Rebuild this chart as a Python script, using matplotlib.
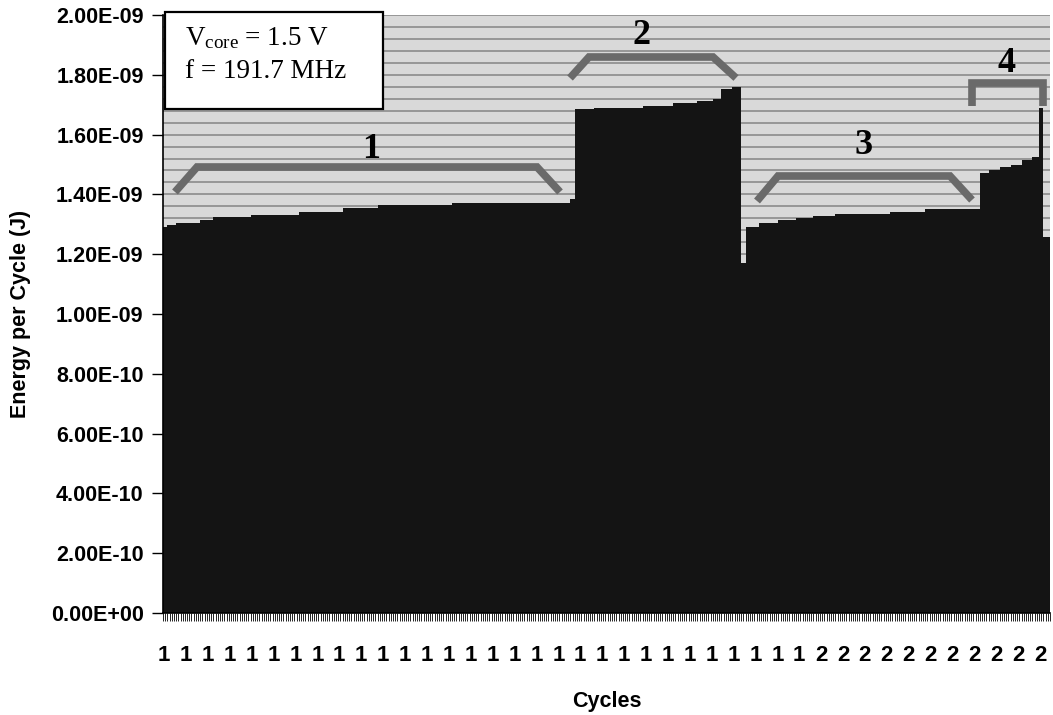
import numpy as np
import matplotlib
matplotlib.use("Agg")
import matplotlib.pyplot as plt
from matplotlib.patches import Rectangle

level_values = [1.291, 1.298, 1.304, 1.315, 1.324, 1.331, 1.341, 1.355, 1.365, 1.371, 1.385,   # phase 1
                1.686, 1.690, 1.697, 1.705, 1.712, 1.718, 1.752, 1.758,                        # phase 2
                1.171,
                1.292, 1.303, 1.314, 1.322, 1.328, 1.334, 1.341, 1.350,                        # phase 3
                1.471, 1.482, 1.491, 1.500, 1.515, 1.526,                                      # phase 4
                1.688, 1.259]
level_counts = [2, 4, 11, 6, 17, 22, 20, 16, 34, 54, 2,
                9, 22, 14, 11, 7, 4, 5, 4,
                2,
                6, 9, 8, 8, 10, 25, 16, 25,
                4, 5, 5, 5, 5, 3,
                2, 3]

# category labels shown every 10th cycle
cycle_labels = ["1"] * 30 + ["2"] * 11
label_step = 10

y_ticks = [0, 2e-10, 4e-10, 6e-10, 8e-10, 1e-9, 1.2e-9, 1.4e-9, 1.6e-9, 1.8e-9, 2e-9]

energy = np.repeat(level_values, level_counts) * 1e-9
n = len(energy)
x = np.arange(n)

W, H = 1053, 715
fig = plt.figure(figsize=(W / 100, H / 100), dpi=100)
ax = fig.add_axes([163 / W, 1 - 613 / H, 887 / W, 598 / H])
ax.set_facecolor("#d9d9d9")

# Excel style horizontal gridlines
for g in np.arange(4e-11, 2e-9 + 1e-12, 4e-11):
    ax.axhline(g, color="#858585", lw=1.1, zorder=1)

ax.bar(x, energy, width=1.0, color="#141414", edgecolor="none", linewidth=0, zorder=2)

ax.set_xlim(-0.5, n - 0.5)
ax.set_ylim(0, 2e-9)
ax.set_yticks(y_ticks)
ax.set_yticklabels(["%.2E" % v for v in y_ticks], fontsize=15.5, fontweight="bold",
                   family="Liberation Sans")
ax.tick_params(axis="y", direction="out", length=8, width=1, pad=6)

label_pos = np.arange(0, n, label_step)[:len(cycle_labels)]
ax.set_xticks(label_pos)
ax.set_xticklabels(cycle_labels, fontsize=16, fontweight="bold", family="Liberation Sans")
ax.tick_params(axis="x", length=0, pad=23)
ax.set_xticks(np.arange(n + 1) - 0.5, minor=True)
ax.tick_params(axis="x", which="minor", direction="out", length=6, width=0.6)

for s in ["top", "right"]:
    ax.spines[s].set_visible(False)
ax.spines["left"].set_linewidth(1.2)
ax.spines["bottom"].set_linewidth(1.2)

ax.set_ylabel("Energy per Cycle (J)", fontsize=15.5, fontweight="bold",
              family="Liberation Sans", labelpad=14)
ax.set_xlabel("Cycles", fontsize=15.5, fontweight="bold", family="Liberation Sans", labelpad=18)

# pixel helpers for annotations (image coordinates, y down)
def fx(px):
    return (px - 163) / 887.0
def fy(py):
    return (613 - py) / 598.0

# text box with operating point
ax.add_patch(Rectangle((fx(165), fy(109)), fx(383) - fx(165), fy(12) - fy(109),
                       transform=ax.transAxes, facecolor="white", edgecolor="black",
                       lw=1.6, zorder=5, clip_on=False))
box_txt = dict(transform=ax.transAxes, fontsize=19.5, family="Liberation Serif",
               va="baseline", ha="left", zorder=6)
ax.text(fx(185), fy(45), "$\\mathregular{V_{core}}$ = 1.5 V", **box_txt)
ax.text(fx(185), fy(78), "f = 191.7 MHz", **box_txt)

# phase brackets
br = dict(color="#6a6a6a", lw=5.5, solid_capstyle="butt", solid_joinstyle="miter",
          transform=ax.transAxes, zorder=4, clip_on=False)
ax.plot([fx(175), fx(197), fx(537), fx(560)], [fy(192), fy(167), fy(167), fy(192)], **br)
ax.plot([fx(570), fx(589), fx(713), fx(736)], [fy(78), fy(57), fy(57), fy(78)], **br)
ax.plot([fx(757), fx(778), fx(950), fx(972)], [fy(201), fy(176), fy(176), fy(200)], **br)
ax.plot([fx(972), fx(972), fx(1043), fx(1043)], [fy(106), fy(83), fy(83), fy(106)], **br)

num = dict(transform=ax.transAxes, fontsize=26, fontweight="bold", family="Liberation Serif",
           ha="center", va="center", zorder=5)
ax.text(fx(371), fy(150), "1", **num)
ax.text(fx(642), fy(36), "2", **num)
ax.text(fx(864), fy(145), "3", **num)
ax.text(fx(1007), fy(64), "4", **num)

fig.savefig("out.png", dpi=100)
